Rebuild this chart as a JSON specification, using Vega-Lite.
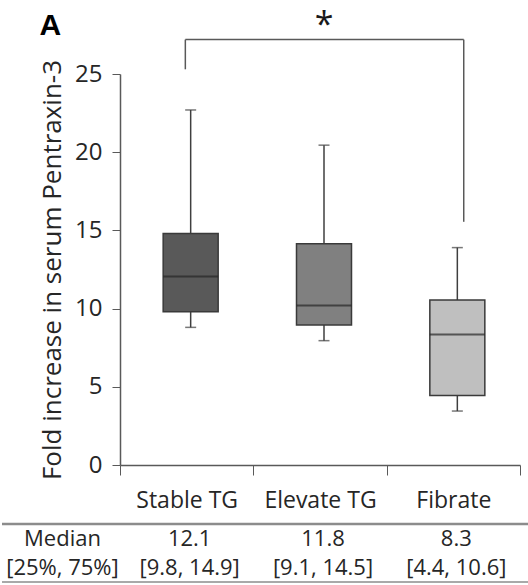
{
  "$schema": "https://vega.github.io/schema/vega-lite/v6.json",
  "padding": {"left": 0, "top": 9, "right": 0, "bottom": 0},
  "config": {
    "font": "Open Sans",
    "view": {"stroke": null},
    "text": {"color": "#262626"}
  },
  "datasets": {
    "boxes": [
      {"group": "Stable TG", "min": 8.8, "q1": 9.8, "median": 12.05, "q3": 14.8, "max": 22.7},
      {"group": "Elevate TG", "min": 7.95, "q1": 8.95, "median": 10.2, "q3": 14.15, "max": 20.45},
      {"group": "Fibrate", "min": 3.45, "q1": 4.45, "median": 8.35, "q3": 10.55, "max": 13.9}
    ],
    "table": [
      {"group": "Stable TG", "row": "Median", "text": "12.1"},
      {"group": "Elevate TG", "row": "Median", "text": "11.8"},
      {"group": "Fibrate", "row": "Median", "text": "8.3"},
      {"group": "Stable TG", "row": "[25%, 75%]", "text": "[9.8, 14.9]"},
      {"group": "Elevate TG", "row": "[25%, 75%]", "text": "[9.1, 14.5]"},
      {"group": "Fibrate", "row": "[25%, 75%]", "text": "[4.4, 10.6]"}
    ]
  },
  "spacing": 10,
  "vconcat": [
    {
      "title": {"text": "A", "anchor": "start", "frame": "bounds", "fontSize": 30, "fontWeight": "bold", "font": "Liberation Sans", "color": "#000000", "offset": -32},
      "width": 400,
      "height": 391,
      "data": {"name": "boxes"},
      "layer": [
        {
          "mark": {"type": "rule", "color": "#3f3f3f", "strokeWidth": 1.5, "xOffset": 4},
          "encoding": {
            "x": {"field": "group", "type": "nominal", "sort": ["Stable TG", "Elevate TG", "Fibrate"], "scale": {"paddingInner": 0, "paddingOuter": 0},
              "axis": {"title": null, "labelAngle": 0, "tickBand": "extent", "tickSize": 10, "labelFontSize": 23, "labelPadding": 14, "domainColor": "#595959", "tickColor": "#595959", "labelColor": "#262626", "domainWidth": 1.5}},
            "y": {"field": "min", "type": "quantitative", "title": "Fold increase in serum Pentraxin-3", "scale": {"domain": [0, 25], "nice": false},
              "axis": {"values": [0, 5, 10, 15, 20, 25], "grid": false, "tickSize": 8, "labelFontSize": 24, "labelPadding": 10, "labelColor": "#262626", "domainColor": "#595959", "tickColor": "#595959", "domainWidth": 1.5, "titleFontSize": 26, "titleFontWeight": "normal", "titleColor": "#262626", "titlePadding": 9}},
            "y2": {"field": "max"}
          }
        },
        {
          "mark": {"type": "bar", "width": 55, "stroke": "#3a3a3a", "strokeWidth": 1.5, "xOffset": 4},
          "encoding": {
            "x": {"field": "group", "type": "nominal", "sort": ["Stable TG", "Elevate TG", "Fibrate"]},
            "y": {"field": "q1", "type": "quantitative", "title": "Fold increase in serum Pentraxin-3"},
            "y2": {"field": "q3"},
            "fill": {"field": "group", "type": "nominal", "scale": {"domain": ["Stable TG", "Elevate TG", "Fibrate"], "range": ["#595959", "#808080", "#bfbfbf"]}, "legend": null}
          }
        },
        {
          "mark": {"type": "tick", "size": 55, "thickness": 2, "color": "#262626", "xOffset": 4},
          "encoding": {
            "x": {"field": "group", "type": "nominal", "sort": ["Stable TG", "Elevate TG", "Fibrate"]},
            "y": {"field": "median", "type": "quantitative", "title": "Fold increase in serum Pentraxin-3"}
          }
        },
        {
          "mark": {"type": "tick", "size": 11, "thickness": 1.5, "color": "#3f3f3f", "xOffset": 4},
          "encoding": {
            "x": {"field": "group", "type": "nominal", "sort": ["Stable TG", "Elevate TG", "Fibrate"]},
            "y": {"field": "min", "type": "quantitative", "title": "Fold increase in serum Pentraxin-3"}
          }
        },
        {
          "mark": {"type": "tick", "size": 11, "thickness": 1.5, "color": "#3f3f3f", "xOffset": 4},
          "encoding": {
            "x": {"field": "group", "type": "nominal", "sort": ["Stable TG", "Elevate TG", "Fibrate"]},
            "y": {"field": "max", "type": "quantitative", "title": "Fold increase in serum Pentraxin-3"}
          }
        },
        {
          "data": {"values": [{}]},
          "mark": {"type": "rule", "color": "#595959", "strokeWidth": 1.5},
          "encoding": {
            "x": {"datum": "Stable TG", "type": "nominal", "bandPosition": 0.49},
            "y": {"datum": 25.3, "type": "quantitative"},
            "y2": {"datum": 27.2}
          }
        },
        {
          "data": {"values": [{}]},
          "mark": {"type": "rule", "color": "#595959", "strokeWidth": 1.5},
          "encoding": {
            "x": {"datum": "Fibrate", "type": "nominal", "bandPosition": 0.578},
            "y": {"datum": 15.55, "type": "quantitative"},
            "y2": {"datum": 27.2}
          }
        },
        {
          "data": {"values": [{}]},
          "mark": {"type": "rule", "color": "#595959", "strokeWidth": 1.5},
          "encoding": {
            "x": {"datum": "Stable TG", "type": "nominal", "bandPosition": 0.49},
            "x2": {"datum": "Fibrate", "bandPosition": 0.578},
            "y": {"datum": 27.2, "type": "quantitative"}
          }
        },
        {
          "data": {"values": [{}]},
          "mark": {"type": "text", "text": "*", "fontSize": 34, "baseline": "alphabetic", "color": "#1a1a1a"},
          "encoding": {
            "x": {"datum": "Elevate TG", "type": "nominal", "bandPosition": 0.53},
            "y": {"datum": 27.4, "type": "quantitative"}
          }
        }
      ]
    },
    {
      "width": 400,
      "height": 58,
      "data": {"name": "table"},
      "layer": [
        {
          "mark": {"type": "text", "fontSize": 22, "xOffset": 3},
          "encoding": {
            "x": {"field": "group", "type": "nominal", "sort": ["Stable TG", "Elevate TG", "Fibrate"], "scale": {"paddingInner": 0, "paddingOuter": 0}, "axis": null},
            "y": {"field": "row", "type": "nominal", "sort": ["Median", "[25%, 75%]"], "scale": {"paddingInner": 0, "paddingOuter": 0},
              "axis": {"title": null, "domain": false, "ticks": false, "labelAlign": "center", "labelPadding": 58, "labelFontSize": 22, "labelColor": "#262626"}},
            "text": {"field": "text"}
          }
        },
        {
          "data": {"values": [{}]},
          "mark": {"type": "rule", "color": "#8c8c8c", "strokeWidth": 2.5},
          "encoding": {
            "x": {"datum": "Stable TG", "type": "nominal", "bandPosition": -0.885},
            "x2": {"datum": "Fibrate", "bandPosition": 1.075},
            "y": {"datum": "Median", "type": "nominal", "bandPosition": 0}
          }
        },
        {
          "data": {"values": [{}]},
          "mark": {"type": "rule", "color": "#8c8c8c", "strokeWidth": 1.5},
          "encoding": {
            "x": {"datum": "Stable TG", "type": "nominal", "bandPosition": -0.885},
            "x2": {"datum": "Fibrate", "bandPosition": 1.075},
            "y": {"datum": "[25%, 75%]", "type": "nominal", "bandPosition": 1}
          }
        }
      ]
    }
  ]
}
